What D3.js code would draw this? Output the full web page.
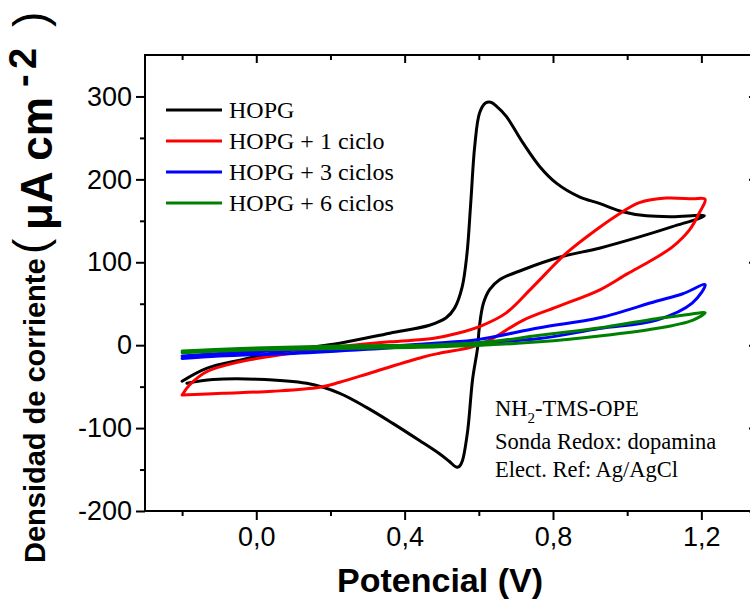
<!DOCTYPE html>
<html>
<head>
<meta charset="utf-8">
<script src="https://cdn.jsdelivr.net/npm/d3@7/dist/d3.min.js"></script>
<style>
html,body{margin:0;padding:0;background:#fff;}
svg{display:block;}
</style>
</head>
<body>
<svg id="chart" width="750" height="599"></svg>
<script>
// ---- Data (potential V, current density µA cm^-2), in scan order ----
const seriesNames = ["HOPG", "HOPG + 1 ciclo", "HOPG + 3 ciclos", "HOPG + 6 ciclos"];
const seriesColors = ["#000000", "#ff0000", "#0000ff", "#008000"];

const hopgE = [-0.2,-0.134,-0.044,0.09,0.225,0.36,0.467,0.512,0.535,0.555,0.568,0.578,0.589,0.602,0.618,0.632,0.648,0.674,0.719,0.764,0.809,0.871,0.925,0.988,1.052,1.122,1.208,
  1.122,1.033,0.925,0.817,0.719,0.656,0.629,0.612,0.601,0.597,0.583,0.57,0.556,0.548,0.539,0.52,0.494,0.44,0.367,0.297,0.225,0.136,0.001,-0.117,-0.187];
const hopgI = [-43.5,-28,-18,-6,2.4,14.5,24,33,45,70,110,170,240,280,292,293,288,276,244,215.6,195.5,179,171,161,156,155,156,
  143,130.6,117,106,91,79,67,50,20,-2,-42,-103,-139,-146,-147,-140,-131,-115,-94,-75,-58,-46,-41,-41.5,-46];

const c1E = [-0.2,-0.18,-0.134,-0.044,0.09,0.225,0.36,0.475,0.54,0.61,0.674,0.745,0.836,0.925,0.988,1.033,1.105,1.176,1.21,
  1.195,1.168,1.122,1.068,1.0,0.925,0.809,0.719,0.629,0.583,0.494,0.448,0.314,0.225,0.171,0.044,-0.09,-0.2];
const c1I = [-60,-48,-32,-20,-10,-2,4,8,14,24,39,70,111,142,161,172,177.5,176.5,176,
  160,139,118.5,103,86,66.5,46,30,6,-2,-9.7,-14.5,-32.6,-44.7,-50.8,-55.6,-58,-60];

const c3E = [-0.2,-0.1,0.0,0.2,0.4,0.5,0.6,0.764,0.925,1.078,1.15,1.21,
  1.176,1.078,0.925,0.764,0.6,0.494,0.3,0.1,-0.1,-0.2];
const c3I = [-13,-10,-8,-4,0,3,7,21,33,53,62,73,
  51,30,20,8,3,1,-5,-10,-13,-16];

const c6E = [-0.2,-0.044,0.225,0.494,0.629,0.764,0.943,1.078,1.15,1.21,
  1.176,1.078,0.943,0.764,0.494,0.225,-0.044,-0.2];
const c6I = [-7,-4,-1,0.5,4,12,22,32,36,39,
  30,20,12,4,-2,-4,-6,-9];

const xMajor = [0, 0.4, 0.8, 1.2];
const xMinor = [-0.2, 0.2, 0.6, 1.0];
const yMajor = [-200, -100, 0, 100, 200, 300];
const yMinor = [-150, -50, 50, 150, 250];
const notes = ["Sonda Redox: dopamina", "Elect. Ref: Ag/AgCl"];

// ---- Build ----
const svg = d3.select("#chart");
const L = 145, R = 757, T = 55, B = 511;
const x = d3.scaleLinear().domain([-0.3, 1.35]).range([L, R]);
const y = d3.scaleLinear().domain([-200, 350]).range([B, T]);

const series = [
  {E: hopgE, I: hopgI},
  {E: c1E, I: c1I},
  {E: c3E, I: c3I},
  {E: c6E, I: c6I}
].map((s, i) => ({name: seriesNames[i], color: seriesColors[i], pts: s.E.map((e, k) => [e, s.I[k]])}));

const line = d3.line().x(d => x(d[0])).y(d => y(d[1])).curve(d3.curveCatmullRom.alpha(0.5));

const plot = svg.append("g");
series.forEach(s => {
  plot.append("path").attr("d", line(s.pts)).attr("fill", "none")
    .attr("stroke", s.color).attr("stroke-width", 3).attr("stroke-linejoin", "round").attr("stroke-linecap", "round");
});

const fmtX = d => d3.format(".1f")(d).replace(".", ",");
const fmtY = d => String(d);
const axisFont = "'Liberation Sans', Arial, sans-serif";

function styleAxis(g) {
  g.select(".domain").remove();
  g.selectAll(".tick line").attr("stroke", "#000").attr("stroke-width", 2);
  g.selectAll(".tick text").attr("fill", "#000").style("font-family", axisFont).style("font-size", "27px");
}

// bottom
svg.append("g").attr("transform", `translate(0,${B})`)
  .call(d3.axisBottom(x).tickValues(xMajor).tickSize(9).tickPadding(7).tickFormat(fmtX)).call(styleAxis);
svg.append("g").attr("transform", `translate(0,${B})`)
  .call(d3.axisBottom(x).tickValues(xMinor).tickSize(5).tickFormat("")).call(styleAxis);
// top
svg.append("g").attr("transform", `translate(0,${T})`)
  .call(d3.axisTop(x).tickValues(xMajor).tickSize(-8).tickFormat("")).call(styleAxis);
svg.append("g").attr("transform", `translate(0,${T})`)
  .call(d3.axisTop(x).tickValues(xMinor).tickSize(-5).tickFormat("")).call(styleAxis);
// left
svg.append("g").attr("transform", `translate(${L},0)`)
  .call(d3.axisLeft(y).tickValues(yMajor).tickSize(9).tickPadding(4).tickFormat(fmtY)).call(styleAxis);
svg.append("g").attr("transform", `translate(${L},0)`)
  .call(d3.axisLeft(y).tickValues(yMinor).tickSize(5).tickFormat("")).call(styleAxis);
// right
svg.append("g").attr("transform", `translate(${R},0)`)
  .call(d3.axisRight(y).tickValues(yMajor).tickSize(-8).tickFormat("")).call(styleAxis);
svg.append("g").attr("transform", `translate(${R},0)`)
  .call(d3.axisRight(y).tickValues(yMinor).tickSize(-5).tickFormat("")).call(styleAxis);

// frame
svg.append("rect").attr("x", L).attr("y", T).attr("width", R - L).attr("height", B - T)
  .attr("fill", "none").attr("stroke", "#000").attr("stroke-width", 2);

// legend
const serif = "'Liberation Serif', 'Times New Roman', serif";
const leg = svg.append("g");
series.forEach((s, i) => {
  const yy = 110 + i * 31;
  leg.append("line").attr("x1", 166).attr("x2", 222).attr("y1", yy).attr("y2", yy)
    .attr("stroke", s.color).attr("stroke-width", 3);
  leg.append("text").attr("x", 229).attr("y", yy + 8).text(s.name)
    .style("font-family", serif).style("font-size", "24px").attr("fill", "#000");
});

// annotation
const ann = svg.append("text").attr("x", 495).attr("y", 416)
  .style("font-family", serif).style("font-size", "22.5px").attr("fill", "#000");
ann.append("tspan").text("NH");
ann.append("tspan").text("2").attr("dy", 7).style("font-size", "15px");
ann.append("tspan").text("-TMS-OPE").attr("dy", -7);
notes.forEach((t, i) => {
  svg.append("text").attr("x", 495).attr("y", 449 + i * 28).text(t)
    .style("font-family", serif).style("font-size", "22.5px").attr("fill", "#000");
});

// axis titles
svg.append("text").attr("x", 440).attr("y", 592).attr("text-anchor", "middle")
  .style("font-family", axisFont).style("font-weight", "bold").style("font-size", "34px")
  .text("Potencial (V)");

const yt = svg.append("text").attr("transform", "translate(45,563) rotate(-90)")
  .style("font-family", axisFont).style("font-weight", "bold").attr("fill", "#000");
yt.append("tspan").attr("x", 0).attr("y", 0).style("font-size", "29px").text("Densidad de corriente");
yt.append("tspan").attr("x", 309).attr("y", 1).style("font-weight", "normal").style("font-size", "46px").text("(");
yt.append("tspan").attr("x", 333).attr("y", 7).style("font-size", "44px").text("μA cm");
yt.append("tspan").attr("x", 476).attr("y", -9).style("font-size", "38px").text("-");
yt.append("tspan").attr("x", 494).attr("y", -9).style("font-size", "38px").text("2");
yt.append("tspan").attr("x", 536).attr("y", 1).style("font-weight", "normal").style("font-size", "46px").text(")");
</script>
</body>
</html>
